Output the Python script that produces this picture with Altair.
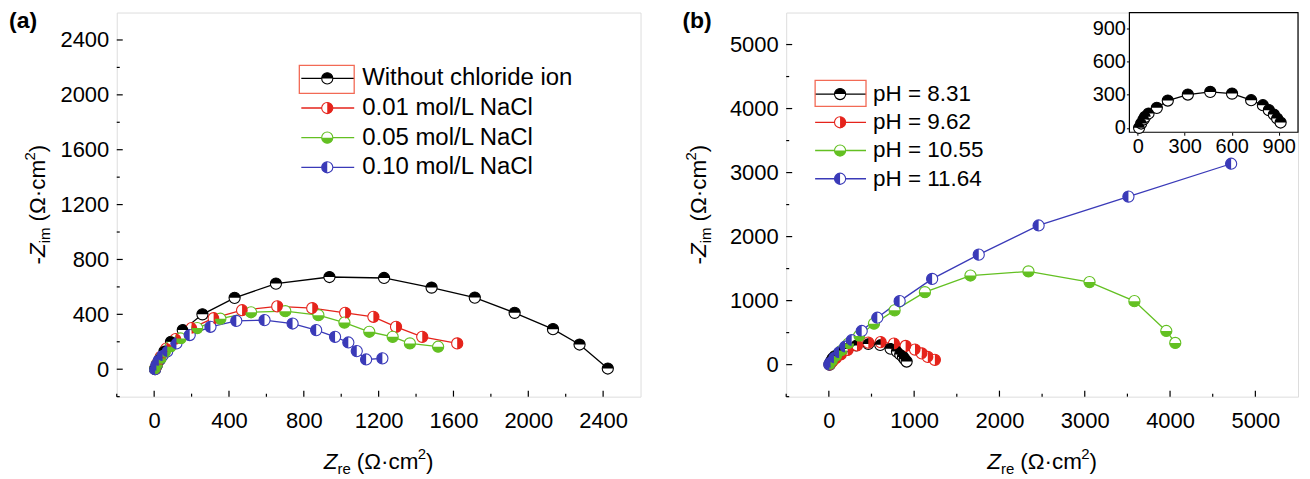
import altair as alt
import pandas as pd

FONT = "Liberation Sans"

# ---------------- panel (a) data ----------------
A_NAMES = ["Without chloride ion", "0.01 mol/L NaCl", "0.05 mol/L NaCl", "0.10 mol/L NaCl"]
A_BLACK_ZRE = [5, 15, 30, 55, 90, 153, 258, 430, 651, 937, 1229, 1483, 1714, 1927, 2132, 2274, 2425]
A_BLACK_ZIM = [0, 30, 70, 130, 200, 285, 400, 520, 624, 672, 665, 595, 522, 411, 292, 180, 5]
A_RED_ZRE = [5, 15, 35, 65, 115, 200, 318, 470, 658, 845, 1021, 1172, 1293, 1433, 1620]
A_RED_ZIM = [5, 40, 90, 150, 220, 300, 372, 430, 458, 445, 411, 382, 309, 236, 188]
A_GREEN_ZRE = [5, 15, 35, 60, 87, 141, 230, 354, 518, 701, 878, 1017, 1150, 1275, 1367, 1518]
A_GREEN_ZIM = [5, 35, 80, 125, 164, 224, 300, 368, 415, 423, 394, 340, 273, 236, 188, 164]
A_BLUE_ZRE = [5, 12, 25, 45, 70, 119, 190, 301, 439, 590, 740, 866, 967, 1038, 1083, 1133, 1220]
A_BLUE_ZIM = [0, 30, 65, 100, 130, 188, 249, 309, 352, 358, 333, 285, 236, 195, 132, 71, 79]

# ---------------- panel (b) data ----------------
B_NAMES = ["pH = 8.31", "pH = 9.62", "pH = 10.55", "pH = 11.64"]
B_BLACK_ZRE = [9, 22, 37, 47, 69, 122, 192, 320, 463, 602, 724, 799, 837, 869, 890, 912]
B_BLACK_ZIM = [0, 39, 75, 99, 129, 180, 246, 300, 324, 309, 249, 204, 159, 120, 84, 48]
B_RED_ZRE = [10, 40, 80, 140, 220, 330, 463, 607, 763, 900, 1010, 1090, 1160, 1243]
B_RED_ZIM = [5, 50, 100, 160, 230, 300, 344, 352, 328, 292, 235, 175, 120, 75]
B_GREEN_ZRE = [10, 40, 90, 150, 230, 354, 529, 771, 1126, 1660, 2340, 3056, 3582, 3956, 4061]
B_GREEN_ZIM = [10, 60, 140, 220, 330, 448, 640, 848, 1132, 1392, 1456, 1290, 992, 526, 339]
B_BLUE_ZRE = [5, 20, 60, 120, 190, 268, 385, 568, 830, 1211, 1757, 2459, 3512, 4716]
B_BLUE_ZIM = [5, 40, 110, 190, 280, 381, 526, 733, 992, 1339, 1718, 2174, 2625, 3138]

# ---------------- axis ticks ----------------
A_MAJOR = [0, 400, 800, 1200, 1600, 2000, 2400]
A_MINOR = [-200, 200, 600, 1000, 1400, 1800, 2200]
B_MAJOR = [0, 1000, 2000, 3000, 4000, 5000]
B_MINOR = [-500, 500, 1500, 2500, 3500, 4500]
INSET_MAJOR = [0, 300, 600, 900]

COLORS = ["#000000", "#e5231b", "#63c022", "#3a3ab8"]
HALF_TOP = "M -1 0 A 1 1 0 0 1 1 0 Z"
HALF_RIGHT = "M 0 -1 A 1 1 0 0 1 0 1 Z"
HALF_BOTTOM = "M 1 0 A 1 1 0 0 1 -1 0 Z"
HALF_LEFT = "M 0 1 A 1 1 0 0 1 0 -1 Z"
SHAPES = [HALF_TOP, HALF_RIGHT, HALF_BOTTOM, HALF_LEFT]

ONE = pd.DataFrame({"k": [0]})

CW = {'-': 0.333, 'Z': 0.611, 'r': 0.333, 'e': 0.556, 'i': 0.222, 'm': 0.833, ' ': 0.278,
      '(': 0.333, ')': 0.333, 'Ω': 0.768, '·': 0.278, 'c': 0.5, '2': 0.556}

TS = 22.5   # title font size
SS = 15     # sub/superscript size
MSIZE = 125  # marker area


def make_df(names, xs_list, ys_list):
    rows = []
    for name, xs, ys in zip(names, xs_list, ys_list):
        for i, (x, y) in enumerate(zip(xs, ys)):
            rows.append({"series": name, "Zre": x, "Zim": y, "idx": i})
    return pd.DataFrame(rows)


def text_layer(text, x, y, size, italic=False, bold=False, angle=0, align="left",
               baseline="alphabetic", color="black"):
    kw = dict(text=text, font=FONT, fontSize=size, align=align, baseline=baseline, color=color)
    if italic:
        kw["fontStyle"] = "italic"
    if bold:
        kw["fontWeight"] = "bold"
    if angle:
        kw["angle"] = angle
    return alt.Chart(ONE).mark_text(**kw).encode(x=alt.value(x), y=alt.value(y))


def rich_title(pieces, cx, cy, angle=0):
    # pieces: (text, size, italic, vertical shift, extra gap before)
    widths = [sum(CW.get(ch, 0.55) for ch in t) * s + g for (t, s, it, v, g) in pieces]
    u = -sum(widths) / 2.0
    out = []
    for (t, s, it, v, g), w in zip(pieces, widths):
        uu = u + g
        if angle == 0:
            x, y = cx + uu, cy + v
        else:
            x, y = cx + v, cy - uu
        out.append(text_layer(t, x, y, s, italic=it, angle=angle))
        u += w
    return out


def x_title(cx, cy):
    return rich_title([("Z", TS, True, 0, 0), ("re", SS, False, 5, 0), ("(Ω·cm", TS, False, 0, 6),
                       ("2", SS, False, -10, 0), (")", TS, False, 0, 0)], cx, cy, 0)


def y_title(cx, cy):
    return rich_title([("-", TS, False, 0, 0), ("Z", TS, True, 0, 0), ("im", SS, False, 5, 0),
                       ("(Ω·cm", TS, False, 0, 6), ("2", SS, False, -10, 0), (")", TS, False, 0, 0)],
                      cx, cy, 270)


def series_layers(df, names, xscale, yscale, xaxis, yaxis, size=MSIZE):
    cscale = alt.Scale(domain=names, range=COLORS)
    base = alt.Chart(df)
    x = alt.X("Zre:Q", scale=xscale, axis=xaxis)
    y = alt.Y("Zim:Q", scale=yscale, axis=yaxis)
    lines = base.mark_line(strokeWidth=1.3).encode(
        x=x, y=y,
        color=alt.Color("series:N", scale=cscale, legend=None),
        order=alt.Order("idx:Q"),
    )
    rings = base.mark_point(shape="circle", filled=True, fill="white", size=size,
                            strokeWidth=1.1, opacity=1).encode(
        x=x, y=y,
        stroke=alt.Stroke("series:N", scale=cscale, legend=None),
    )
    halves = base.mark_point(filled=True, size=size, opacity=1, strokeWidth=0).encode(
        x=x, y=y,
        fill=alt.Fill("series:N", scale=cscale, legend=None),
        shape=alt.Shape("series:N", scale=alt.Scale(domain=names, range=SHAPES), legend=None),
    )
    return [lines, rings, halves]


def tick_layers(xscale, yscale, xaxis, yaxis, xmaj, xmin, ymaj, ymin, H):
    out = []
    for vals, L in [(xmaj, 6), (xmin, 3)]:
        out.append(alt.Chart(pd.DataFrame({"Zre": vals})).mark_rule(color="black", strokeWidth=1.2).encode(
            x=alt.X("Zre:Q", scale=xscale, axis=xaxis), y=alt.value(H), y2=alt.value(H - L)))
    for vals, L in [(ymaj, 6), (ymin, 3)]:
        out.append(alt.Chart(pd.DataFrame({"Zim": vals})).mark_rule(color="black", strokeWidth=1.2).encode(
            y=alt.Y("Zim:Q", scale=yscale, axis=yaxis), x=alt.value(0), x2=alt.value(L)))
    return out


def legend_layers(names, lx0, lx1, sx, tx, y0, dy, fsize, box):
    out = []
    bx0, bx1, by0, by1 = box
    for i, name in enumerate(names):
        y = y0 + i * dy
        out.append(alt.Chart(ONE).mark_rule(color=COLORS[i], strokeWidth=1.3).encode(
            x=alt.value(lx0), x2=alt.value(lx1), y=alt.value(y)))
        out.append(alt.Chart(ONE).mark_point(shape="circle", filled=True, fill="white", stroke=COLORS[i],
                                             size=MSIZE, strokeWidth=1.1, opacity=1).encode(
            x=alt.value(sx), y=alt.value(y)))
        out.append(alt.Chart(ONE).mark_point(shape=SHAPES[i], filled=True, fill=COLORS[i],
                                             size=MSIZE, strokeWidth=0, opacity=1).encode(
            x=alt.value(sx), y=alt.value(y)))
        out.append(text_layer(name, tx, y, fsize, baseline="middle"))
    out.append(alt.Chart(ONE).mark_rect(fillOpacity=0, stroke="#f26a55", strokeWidth=1.3).encode(
        x=alt.value(bx0), x2=alt.value(bx1), y=alt.value(by0), y2=alt.value(by1)))
    return out


def main_axis(values, pad):
    return alt.Axis(values=values, title=None, ticks=False, tickSize=0, domain=False, grid=False,
                    format="d", labelFont=FONT, labelFontSize=22, labelColor="black",
                    labelPadding=pad, labelFlush=False, labelOverlap=False)


# ---------------- panel (a) ----------------
A_W, A_H = 525, 385
xs_a = alt.Scale(domain=[-200, 2600], nice=False, zero=False)
ys_a = alt.Scale(domain=[-200, 2600], nice=False, zero=False)
ax_a = main_axis(A_MAJOR, 14)
ay_a = main_axis(A_MAJOR, 8)
df_a = make_df(A_NAMES, [A_BLACK_ZRE, A_RED_ZRE, A_GREEN_ZRE, A_BLUE_ZRE],
               [A_BLACK_ZIM, A_RED_ZIM, A_GREEN_ZIM, A_BLUE_ZIM])

layers_a = (series_layers(df_a, A_NAMES, xs_a, ys_a, ax_a, ay_a)
            + tick_layers(xs_a, ys_a, ax_a, ay_a, A_MAJOR, A_MINOR, A_MAJOR, A_MINOR, A_H)
            + legend_layers(A_NAMES, 185, 238, 211, 246, 66, 29.7, 24, (183, 238, 53, 81))
            + x_title(A_W / 2, 458)
            + y_title(-72, A_H / 2)
            + [text_layer("(a)", -108, 9, 23, bold=True, baseline="middle")])
panel_a = alt.layer(*layers_a).properties(width=A_W, height=A_H)

# ---------------- panel (b) ----------------
B_W, B_H = 513, 385
xs_b = alt.Scale(domain=[-500, 5500], nice=False, zero=False)
ys_b = alt.Scale(domain=[-500, 5500], nice=False, zero=False)
ax_b = main_axis(B_MAJOR, 14)
ay_b = main_axis(B_MAJOR, 8)
df_b = make_df(B_NAMES, [B_BLACK_ZRE, B_RED_ZRE, B_GREEN_ZRE, B_BLUE_ZRE],
               [B_BLACK_ZIM, B_RED_ZIM, B_GREEN_ZIM, B_BLUE_ZIM])

main_b = alt.layer(*(series_layers(df_b, B_NAMES, xs_b, ys_b, ax_b, ay_b)
                     + tick_layers(xs_b, ys_b, ax_b, ay_b, B_MAJOR, B_MINOR, B_MAJOR, B_MINOR, B_H)
                     + legend_layers(B_NAMES, 29, 80, 54, 87, 81.7, 28.3, 22.5, (29, 80, 68, 94))
                     + x_title(B_W / 2, 458)
                     + y_title(-80, B_H / 2)
                     + [text_layer("(b)", -104, 9, 23, bold=True, baseline="middle")]))

IN_X0, IN_Y1 = 344, 120
xs_in = alt.Scale(domain=[-53, 1023], range=[IN_X0, B_W], nice=False, zero=False)
ys_in = alt.Scale(domain=[-40, 1040], range=[IN_Y1, 0], nice=False, zero=False)
inset_axis_x = alt.Axis(values=INSET_MAJOR, title=None, orient="bottom", offset=-(B_H - IN_Y1),
                        ticks=True, tickSize=3, tickColor="black", domain=False, grid=False,
                        format="d", labelFont=FONT, labelFontSize=20, labelColor="black", labelPadding=1,
                        labelFlush=False, labelOverlap=False)
inset_axis_y = alt.Axis(values=INSET_MAJOR, title=None, orient="left", offset=-IN_X0,
                        ticks=True, tickSize=3, tickColor="black", domain=False, grid=False,
                        format="d", labelFont=FONT, labelFontSize=20, labelColor="black", labelPadding=1,
                        labelFlush=False, labelOverlap=False)
df_in = df_b[df_b["series"] == B_NAMES[0]]
inset_frame = alt.Chart(ONE).mark_rect(fill="white", stroke="black", strokeWidth=1.2).encode(
    x=alt.value(IN_X0), x2=alt.value(B_W), y=alt.value(0), y2=alt.value(IN_Y1))
inset_b = alt.layer(inset_frame, *series_layers(df_in, B_NAMES, xs_in, ys_in, inset_axis_x, inset_axis_y))

panel_b = alt.layer(main_b, inset_b).resolve_scale(x="independent", y="independent").properties(
    width=B_W, height=B_H)

chart = alt.hconcat(panel_a, panel_b, spacing=146, bounds="flush").properties(
    padding={"left": 0, "top": 1, "right": 2, "bottom": 0}
).configure_view(stroke="black", strokeWidth=1.3).configure(background="white")

chart.save("out.html", embed_options={"renderer": "svg", "actions": False})
